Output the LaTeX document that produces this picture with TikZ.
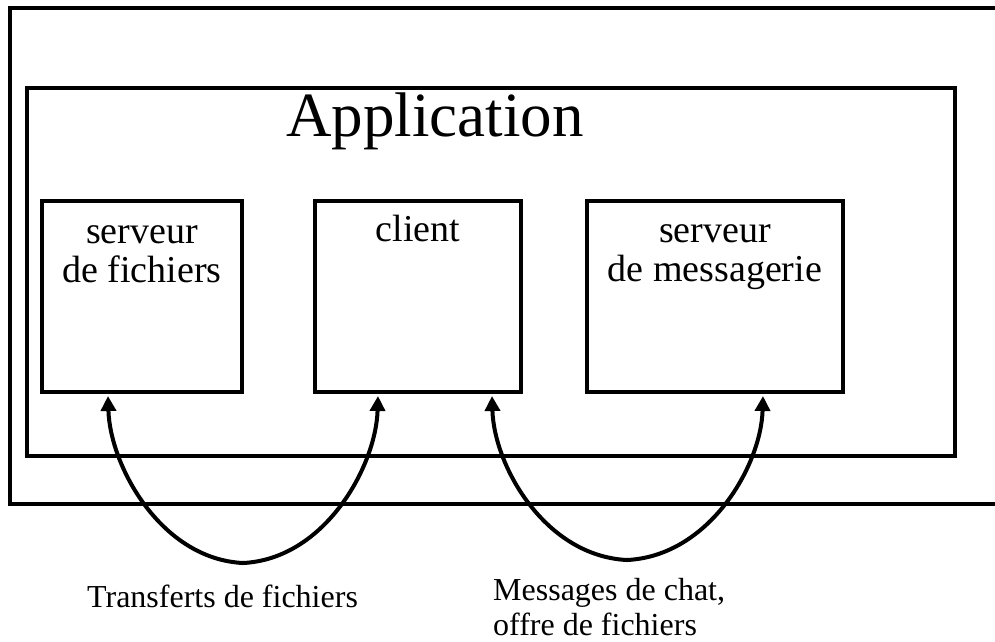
\documentclass[tikz,border=0pt]{standalone}
\usepackage{fontspec}
\setmainfont{Liberation Serif}
\usetikzlibrary{arrows.meta,calc}
\begin{document}
\begin{tikzpicture}[x=1pt,y=-1pt,
  thick line/.style={line width=4pt},
  blk/.style={draw,thick line,inner sep=0pt},
  blktext/.style={anchor=base,align=center,inner sep=0pt,
    font=\fontsize{38pt}{39pt}\selectfont},
  lbl/.style={anchor=base west,align=left,inner sep=0pt,
    font=\fontsize{32pt}{35pt}\selectfont},
  flow/.style={thick line,{Triangle[length=15pt,width=15pt]}-{Triangle[length=15pt,width=15pt]}}
]
\useasboundingbox (0,0) rectangle (995,641);
\clip (0,0) rectangle (995,641);

% outer frame, open on the right
\draw[thick line] (1010,8) -- (10,8) -- (10,504) -- (1010,504);

% application box and its title
\node[blk,minimum width=928pt,minimum height=368pt] (app) at (491,272) {};
\node[anchor=base,inner sep=0pt,font=\fontsize{63pt}{63pt}\selectfont] (title) at (435,136) {Application};

% the three components
\node[blk,minimum width=200pt,minimum height=191pt] (fich) at (142,296.5) {};
\node[blk,minimum width=206pt,minimum height=191pt] (cli) at (418,296.5) {};
\node[blk,minimum width=256pt,minimum height=191pt] (msg) at (715,296.5) {};

% multi-line labels sit on the baseline of their last line
\node[blktext] (tfich) at ($(fich.north)+(0,83)$) {serveur\\de fichiers};
\node[blktext] (tcli) at ($(cli.north)+(0,42)$) {client};
\node[blktext] (tmsg) at ($(msg.north)+(0,82)$) {serveur\\de messagerie};

% arrow end points under the boxes
\coordinate (f1) at (108,396);
\coordinate (c1) at (378,396);
\coordinate (b1) at (243,563);
\coordinate (c2) at (492,396);
\coordinate (m2) at (763,396);
\coordinate (b2) at (627,560);

\draw[flow] (f1) .. controls +(2,70) and +(-82,-4) .. (b1)
                 .. controls +(82,-4) and +(-2,70) .. (c1);
\draw[flow] (c2) .. controls +(2,70) and +(-82,-4) .. (b2)
                 .. controls +(82,-4) and +(-2,70) .. (m2);

% captions
\node[lbl] (l1) at (87,607) {Transferts de fichiers};
\node[lbl] (l2) at (493,635) {Messages de chat,\\offre de fichiers};
\end{tikzpicture}
\end{document}
